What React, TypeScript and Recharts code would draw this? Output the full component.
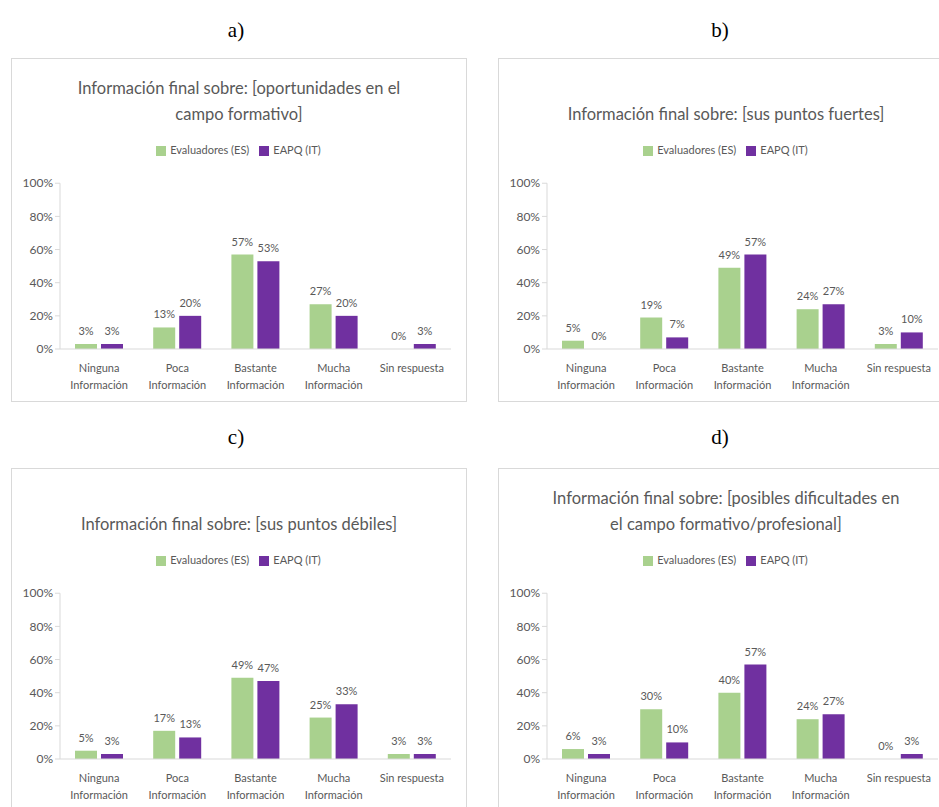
import React from 'react';
import { BarChart, Bar, XAxis, YAxis, Legend, LabelList } from 'recharts';

const categories = [
  'Ninguna\nInformación',
  'Poca\nInformación',
  'Bastante\nInformación',
  'Mucha\nInformación',
  'Sin respuesta',
];
const yTicks = [0, 20, 40, 60, 80, 100];

const esA = [3, 13, 57, 27, 0];
const itA = [3, 20, 53, 20, 3];
const esB = [5, 19, 49, 24, 3];
const itB = [0, 7, 57, 27, 10];
const esC = [5, 17, 49, 25, 3];
const itC = [3, 13, 47, 33, 3];
const esD = [6, 30, 40, 24, 0];
const itD = [3, 10, 57, 27, 3];

const GREEN = '#a9d18e';
const PURPLE = '#7030a0';
const TEXT = '#595959';
const FONT = 'Lato, "Open Sans", sans-serif';

const CatTick = ({ x, y, payload }: any) => {
  const lines = String(payload.value).split('\n');
  return (
    <text x={x} y={y} textAnchor="middle" fill={TEXT} fontSize={11} fontFamily={FONT}>
      {lines.map((l, i) => (
        <tspan key={i} x={x} dy={i === 0 ? 15 : 17}>{l}</tspan>
      ))}
    </text>
  );
};

// draws the value even when the bar has zero height
const ValueLabel = (props: any) => {
  const { x, y, width, value } = props;
  if (value == null) return null;
  return (
    <text x={Number(x) + Number(width) / 2} y={Number(y) - 9} textAnchor="middle" fill={TEXT} fontSize={11} fontFamily={FONT}>
      {`${value}%`}
    </text>
  );
};

const Panel = ({ left, top, title, es, it }: { left: number; top: number; title: string[]; es: number[]; it: number[] }) => {
  const data = categories.map((c, i) => ({ name: c, es: es[i], it: it[i] }));
  const titleTop = title.length === 1 ? 42 : 16;
  return (
    <div style={{ position: 'absolute', left, top, width: 456, height: 344, border: '1px solid #d9d9d9', boxSizing: 'border-box', background: '#fff' }}>
      <div style={{ position: 'absolute', left: 0, top: titleTop, width: 454, textAlign: 'center', color: TEXT, fontFamily: FONT, fontSize: 16.5, lineHeight: '26px' }}>
        {title.map((t) => <div key={t}>{t}</div>)}
      </div>
      <BarChart width={454} height={342} data={data} margin={{ top: 111, right: 15, bottom: 0, left: 0 }} barGap={4} barSize={22}>
        <XAxis dataKey="name" axisLine={{ stroke: '#d9d9d9' }} tickLine={false} height={52} tick={<CatTick />} interval={0} />
        <YAxis width={48} domain={[0, 100]} ticks={yTicks} tickFormatter={(v) => `${v}%`} axisLine={{ stroke: '#d9d9d9' }} tickLine={{ stroke: '#d9d9d9' }} tickSize={5} tick={{ fill: TEXT, fontSize: 12, fontFamily: FONT }} />
        <Legend verticalAlign="top" iconType="square" iconSize={10} itemSorter="dataKey" wrapperStyle={{ top: 84, left: 12, fontSize: 11, fontFamily: FONT, color: TEXT }} formatter={(v) => <span style={{ color: TEXT }}>{v}</span>} />
        <Bar dataKey="es" name="Evaluadores (ES)" fill={GREEN} isAnimationActive={false} minPointSize={0.01}>
          <LabelList dataKey="es" content={<ValueLabel />} />
        </Bar>
        <Bar dataKey="it" name="EAPQ (IT)" fill={PURPLE} isAnimationActive={false} minPointSize={0.01}>
          <LabelList dataKey="it" content={<ValueLabel />} />
        </Bar>
      </BarChart>
    </div>
  );
};

const Tag = ({ x, y, children }: { x: number; y: number; children: React.ReactNode }) => (
  <div style={{ position: 'absolute', left: x - 30, top: y - 14, width: 60, textAlign: 'center', fontFamily: '"Liberation Serif", serif', fontSize: 21, lineHeight: '28px', color: '#000' }}>{children}</div>
);

export default function App() {
  return (
    <div style={{ position: 'absolute', left: 0, top: 0, width: 939, height: 807, overflow: 'hidden', background: '#fff' }}>
      <Tag x={236} y={30}>a)</Tag>
      <Tag x={720} y={30}>b)</Tag>
      <Tag x={236} y={437}>c)</Tag>
      <Tag x={720} y={437}>d)</Tag>
      <Panel left={11} top={58} title={['Información final sobre: [oportunidades en el', 'campo formativo]']} es={esA} it={itA} />
      <Panel left={498} top={58} title={['Información final sobre: [sus puntos fuertes]']} es={esB} it={itB} />
      <Panel left={11} top={468} title={['Información final sobre: [sus puntos débiles]']} es={esC} it={itC} />
      <Panel left={498} top={468} title={['Información final sobre: [posibles dificultades en', 'el campo formativo/profesional]']} es={esD} it={itD} />
    </div>
  );
}
